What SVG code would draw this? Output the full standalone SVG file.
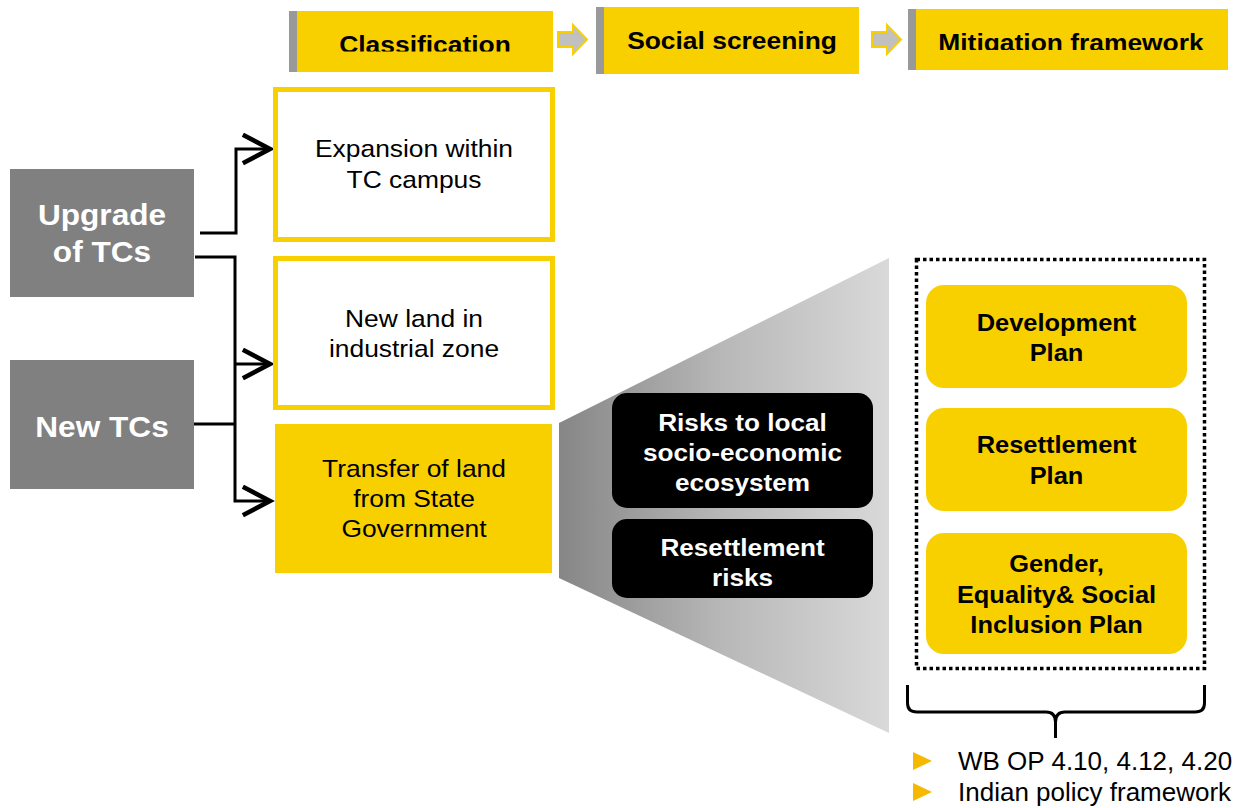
<svg xmlns="http://www.w3.org/2000/svg" width="1248" height="808" viewBox="0 0 1248 808">
<defs>
<style>
text{font-family:"Liberation Sans",Arial,sans-serif;text-anchor:middle}
.hdr{font-size:24px;font-weight:bold;fill:#000}
.body{font-size:24px;fill:#000}
.bw{font-size:24px;font-weight:bold;fill:#fff}
.bb{font-size:24px;font-weight:bold;fill:#000}
.big{font-size:29px;font-weight:bold;fill:#fff}
.note{font-size:26px;fill:#000;text-anchor:start}
.yel{fill:#F8D000}
.bar{fill:#999999}
.grey{fill:#808080}
.conn{fill:none;stroke:#000;stroke-width:3}
.harrow{fill:#C0C0C0;stroke:#F8D000;stroke-width:2}
</style>
<marker id="chev" markerUnits="userSpaceOnUse" markerWidth="40" markerHeight="40" viewBox="-22 -14 26 28" refX="0" refY="0" orient="auto" overflow="visible">
<path d="M-19,-10 L0,0 L-19,10" fill="none" stroke="#000" stroke-width="3.2"/>
</marker>
<linearGradient id="funnelGrad" x1="0" y1="0" x2="1" y2="0">
<stop offset="0" stop-color="#868686"/>
<stop offset="0.5" stop-color="#b8b8b8"/>
<stop offset="1" stop-color="#d9d9d9"/>
</linearGradient>
<clipPath id="clipC"><rect x="297" y="11" width="256" height="40.5"/></clipPath>
<clipPath id="clipM"><rect x="916" y="9" width="312" height="41"/></clipPath>
</defs>

<rect width="1248" height="808" fill="#fff"/>

<g id="hdr-classification">
<rect class="bar" x="289" y="11" width="8" height="61"/>
<rect class="yel" x="297" y="11" width="256" height="61"/>
<g clip-path="url(#clipC)"><g transform="translate(425 0) scale(1.1 1)"><text class="hdr" x="0" y="53">Classification</text></g></g>
</g>
<g id="hdr-arrow1"><path class="harrow" d="M558,32 L573,32 L573,25 L587,39.5 L573,54 L573,47 L558,47 Z"/></g>
<g id="hdr-social">
<rect class="bar" x="596" y="7" width="8" height="67"/>
<rect class="yel" x="604" y="7" width="255" height="67"/>
<g transform="translate(732 0) scale(1.1 1)"><text class="hdr" x="0" y="49">Social screening</text></g>
</g>
<g id="hdr-arrow2"><path class="harrow" d="M872,32 L887,32 L887,25 L901,39.5 L887,54 L887,47 L872,47 Z"/></g>
<g id="hdr-mitigation">
<rect class="bar" x="908" y="9" width="8" height="61"/>
<rect class="yel" x="916" y="9" width="312" height="61"/>
<g clip-path="url(#clipM)"><g transform="translate(1071 0) scale(1.1 1)"><text class="hdr" x="0" y="51">Mitigation framework</text></g></g>
</g>

<g id="funnel">
<polygon points="559,423 889,258 889,733 559,578" fill="url(#funnelGrad)"/>
</g>

<g id="connectors">
<path class="conn" d="M200,233 H236 V149 H270" marker-end="url(#chev)"/>
<path class="conn" d="M195,257 H235 V501 H270" marker-end="url(#chev)"/>
<path class="conn" d="M235,364 H270" marker-end="url(#chev)"/>
<path class="conn" d="M193,424 H235"/>
</g>

<g id="upgrade">
<rect class="grey" x="10" y="169" width="184" height="128"/>
<g transform="translate(102 0) scale(1.09 1)"><text class="big"><tspan x="0" y="225">Upgrade</tspan><tspan x="0" y="262">of TCs</tspan></text></g>
</g>
<g id="newtcs">
<rect class="grey" x="10" y="360" width="184" height="129"/>
<g transform="translate(102 0) scale(1.09 1)"><text class="big" x="0" y="437">New TCs</text></g>
</g>

<g id="expansion">
<rect x="275.5" y="89.5" width="277" height="150" fill="#fff" stroke="#F8D000" stroke-width="5"/>
<g transform="translate(414 0) scale(1.1 1)"><text class="body"><tspan x="0" y="157">Expansion within</tspan><tspan x="0" y="188">TC campus</tspan></text></g>
</g>
<g id="newland">
<rect x="275.5" y="258.5" width="277" height="149" fill="#fff" stroke="#F8D000" stroke-width="5"/>
<g transform="translate(414 0) scale(1.1 1)"><text class="body"><tspan x="0" y="327">New land in</tspan><tspan x="0" y="357">industrial zone</tspan></text></g>
</g>
<g id="transfer">
<rect class="yel" x="275" y="424" width="277" height="149"/>
<g transform="translate(414 0) scale(1.1 1)"><text class="body"><tspan x="0" y="477">Transfer of land</tspan><tspan x="0" y="507">from State</tspan><tspan x="0" y="537">Government</tspan></text></g>
</g>

<g id="risks-local">
<rect x="612" y="393" width="261" height="115" rx="15" fill="#000"/>
<g transform="translate(742.5 0) scale(1.09 1)"><text class="bw"><tspan x="0" y="431">Risks to local</tspan><tspan x="0" y="461.5">socio-economic</tspan><tspan x="0" y="491">ecosystem</tspan></text></g>
</g>
<g id="risks-resettlement">
<rect x="612" y="519" width="261" height="79" rx="15" fill="#000"/>
<g transform="translate(742.5 0) scale(1.09 1)"><text class="bw"><tspan x="0" y="556">Resettlement</tspan><tspan x="0" y="586">risks</tspan></text></g>
</g>

<g id="mitigation-group">
<rect x="916.5" y="259.5" width="288" height="409" fill="none" stroke="#000" stroke-width="3.5" stroke-dasharray="3.5 3"/>
</g>
<g id="dev-plan">
<rect class="yel" x="926" y="285" width="261" height="103" rx="18"/>
<g transform="translate(1056.5 0) scale(1.06 1)"><text class="bb"><tspan x="0" y="331">Development</tspan><tspan x="0" y="361">Plan</tspan></text></g>
</g>
<g id="res-plan">
<rect class="yel" x="926" y="408" width="261" height="103" rx="18"/>
<g transform="translate(1056.5 0) scale(1.06 1)"><text class="bb"><tspan x="0" y="453">Resettlement</tspan><tspan x="0" y="484">Plan</tspan></text></g>
</g>
<g id="gesi-plan">
<rect class="yel" x="926" y="533" width="261" height="121" rx="18"/>
<g transform="translate(1056.5 0) scale(1.06 1)"><text class="bb"><tspan x="0" y="572">Gender,</tspan><tspan x="0" y="603">Equality&amp; Social</tspan><tspan x="0" y="633">Inclusion Plan</tspan></text></g>
</g>

<g id="brace">
<path d="M907.5,685 V703 Q907.5,712 917,712 H1046 Q1055.5,712 1055.5,722 V738 M1055.5,722 Q1055.5,712 1065,712 H1195 Q1204.5,712 1204.5,703 V685" fill="none" stroke="#000" stroke-width="3"/>
</g>

<g id="policies">
<polygon points="913,752 932,761 913,770" fill="#F6B800"/>
<text class="note" x="958" y="770">WB OP 4.10, 4.12, 4.20</text>
<polygon points="913,783 932,792 913,801" fill="#F6B800"/>
<text class="note" x="958" y="801">Indian policy framework</text>
</g>
</svg>
